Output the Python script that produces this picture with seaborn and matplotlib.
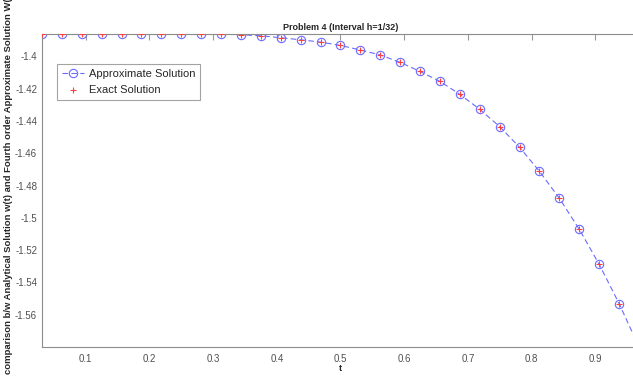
import numpy as np
import pandas as pd
import matplotlib
matplotlib.use("Agg")
import matplotlib.pyplot as plt
import seaborn as sns

# values (t = k/32, k = 1..31)
t_steps = list(range(1, 32))
approx_w = [-1.3861, -1.3861, -1.3861, -1.3861, -1.3861, -1.3861, -1.3861, -1.3861, -1.3861,
            -1.3861, -1.3866, -1.3872, -1.3884, -1.3897, -1.3911, -1.3932, -1.3960, -1.3991,
            -1.4037, -1.4093, -1.4155, -1.4235, -1.4328, -1.4435, -1.4563, -1.4712, -1.4879,
            -1.5071, -1.5288, -1.5531, -1.5800]
exact_w = [-1.3861, -1.3861, -1.3861, -1.3861, -1.3861, -1.3861, -1.3861, -1.3861, -1.3861,
           -1.3861, -1.3866, -1.3872, -1.3884, -1.3897, -1.3911, -1.3932, -1.3960, -1.3991,
           -1.4037, -1.4093, -1.4155, -1.4235, -1.4328, -1.4435, -1.4563, -1.4712, -1.4879,
           -1.5071, -1.5288, -1.5531, -1.5800]
x_ticks = [0.1, 0.2, 0.3, 0.4, 0.5, 0.6, 0.7, 0.8, 0.9]
y_ticks = [-1.56, -1.54, -1.52, -1.5, -1.48, -1.46, -1.44, -1.42, -1.4]
y_tick_labels = ["-1.56", "-1.54", "-1.52", "-1.5", "-1.48", "-1.46", "-1.44", "-1.42", "-1.4"]

df = pd.DataFrame({"t": [k / 32 for k in t_steps], "approx": approx_w, "exact": exact_w})

sns.set_theme(style="white")
plt.rcParams['font.family'] = ['Liberation Sans', 'DejaVu Sans']

fig = plt.figure(figsize=(6.33, 3.76), dpi=100)
# axes runs a little past the right edge, like the cropped original
ax = fig.add_axes([42 / 633, 29 / 376, 597 / 633, 313 / 376])

blue = (0.42, 0.42, 1.0)
red = (1.0, 0.25, 0.25)
sns.lineplot(data=df, x="t", y="approx", ax=ax, color=blue, linewidth=0.8,
             linestyle=(0, (5, 3)), marker="o", markersize=6, markerfacecolor="none",
             markeredgecolor=blue, markeredgewidth=0.8, label="Approximate Solution")
sns.scatterplot(data=df, x="t", y="exact", ax=ax, marker="+", color=red, s=22,
                linewidth=0.8, label="Exact Solution", zorder=3)

ax.set_xlim(1 / 32, 31 / 32)
ax.set_ylim(-1.58, -1.3861)
ax.set_xticks(x_ticks)
ax.set_xticklabels([f"{v:g}" for v in x_ticks])
ax.set_yticks(y_ticks)
ax.set_yticklabels(y_tick_labels)

for side in ["left", "bottom", "top", "right"]:
    ax.spines[side].set_visible(True)
    ax.spines[side].set_color("#8c8c8c")
    ax.spines[side].set_linewidth(0.8)
ax.tick_params(direction="in", length=4, width=0.8, color="#9a9a9a",
               labelsize=7, labelcolor="#505050", top=True, right=True)
ax.tick_params(axis="x", pad=5)

ax.set_title("Problem 4 (Interval h=1/32)", fontsize=6.5, fontweight="bold", pad=3)
ax.set_xlabel("t", fontsize=6.5, fontweight="bold", labelpad=0)
# the long label runs off the top of the picture, as in the original
ax.set_ylabel("comparison b/w Analytical Solution w(t) and Fourth order Approximate Solution W(t)",
              fontsize=6.8, fontweight="bold")
ax.yaxis.set_label_coords(-0.049, 0.525)

leg = ax.legend(loc="upper left", bbox_to_anchor=(15 / 597, 1 - 30 / 313), fontsize=8,
                frameon=True, fancybox=False, edgecolor="#8c8c8c", borderpad=0.45,
                handlelength=2.0, labelspacing=0.5, handletextpad=0.4, borderaxespad=0)
leg.get_frame().set_linewidth(0.8)

fig.savefig("out.png", dpi=100)
